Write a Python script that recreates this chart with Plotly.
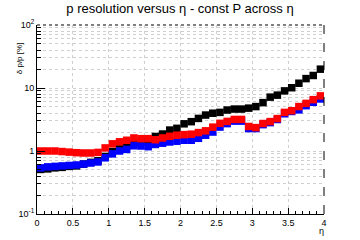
import plotly.graph_objects as go

eta = [round(0.05 + 0.1 * i, 2) for i in range(40)]

black = [0.51, 0.52, 0.54, 0.55, 0.57, 0.58, 0.62, 0.66, 0.70, 0.82,
         0.98, 1.08, 1.20, 1.30, 1.40, 1.52, 1.70, 1.86, 2.15, 2.29,
         2.70, 2.92, 3.29, 3.72, 3.98, 4.10, 4.47, 4.63, 4.63, 4.79,
         5.07, 5.86, 7.16, 7.70, 9.00, 10.1, 11.9, 14.1, 15.8, 19.9]

blue = [0.54, 0.56, 0.57, 0.58, 0.59, 0.60, 0.62, 0.645, 0.67, 0.78,
        0.90, 1.00, 1.06, 1.21, 1.20, 1.17, 1.27, 1.33, 1.39, 1.43,
        1.48, 1.48, 1.59, 1.78, 2.00, 2.40, 2.72, 2.98, 2.98, 2.27,
        2.27, 2.62, 2.82, 3.16, 3.90, 4.24, 4.50, 5.24, 5.93, 6.70]

red = [1.00, 1.00, 1.00, 0.98, 0.96, 0.94, 0.93, 0.93, 0.95, 1.12,
       1.30, 1.40, 1.48, 1.61, 1.57, 1.57, 1.51, 1.61, 1.71, 1.78,
       1.82, 1.85, 1.96, 2.09, 2.39, 2.75, 2.95, 3.17, 3.17, 2.45,
       2.35, 2.73, 2.93, 3.27, 4.10, 4.36, 5.07, 5.70, 6.53, 7.50]

x_tickvals = [0, 0.5, 1, 1.5, 2, 2.5, 3, 3.5, 4]
x_ticktext = ["0", "0.5", "1", "1.5", "2", "2.5", "3", "3.5", "4"]
y_tickvals = [0.1, 1, 10, 100]
y_ticktext = ["10<sup>-1</sup>", "1", "10", "10<sup>2</sup>"]
y_minor = [m * 10.0 ** k for k in (-1, 0, 1) for m in range(2, 10)]
x_minor = [round(0.1 * i, 1) for i in range(41)]

fig = go.Figure()
for vals, col in ((black, "black"), (blue, "blue"), (red, "red")):
    fig.add_trace(go.Scatter(
        x=eta, y=vals, mode="markers",
        marker=dict(symbol="square", size=7.5, color=col, line=dict(width=0)),
        showlegend=False))

font = "Liberation Sans, Arial, sans-serif"
grid = "#cfcfcf"
fig.update_layout(
    width=360, height=240,
    margin=dict(l=37, r=36, t=25, b=24),
    paper_bgcolor="white", plot_bgcolor="white",
    title=dict(text="p resolution versus η - const P across η",
               x=0.5, xanchor="center", y=0.965, yanchor="middle",
               font=dict(family=font, size=13, color="black")),
    font=dict(family=font, size=9, color="black"),
    xaxis=dict(range=[0, 4], tickmode="array", tickvals=x_tickvals, ticktext=x_ticktext,
               ticks="inside", ticklen=6, tickcolor="black",
               showline=True, linecolor="black", linewidth=1,
               showgrid=True, gridcolor=grid, griddash="dot", gridwidth=1,
               zeroline=False, tickfont=dict(size=9),
               minor=dict(tickmode="array", tickvals=x_minor, ticks="inside",
                          ticklen=3, tickcolor="black", showgrid=False)),
    yaxis=dict(type="log", range=[-1, 2], tickmode="array", tickvals=y_tickvals,
               ticktext=y_ticktext, ticks="inside", ticklen=8, tickcolor="black",
               showline=True, linecolor="black", linewidth=1,
               showgrid=True, gridcolor=grid, griddash="dot", gridwidth=1,
               zeroline=False, tickfont=dict(size=9),
               minor=dict(tickmode="array", tickvals=y_minor, ticks="inside",
                          ticklen=4, tickcolor="black", showgrid=True,
                          gridcolor=grid, griddash="dot", gridwidth=1)),
)

fig.add_shape(type="line", xref="paper", yref="paper", x0=0, x1=1, y0=1, y1=1,
              line=dict(color="black", width=1, dash="dot"))
fig.add_shape(type="line", xref="paper", yref="paper", x0=1, x1=1, y0=0, y1=1,
              line=dict(color="black", width=1, dash="dash"))

fig.add_annotation(text="δ p/p [%]", xref="paper", yref="paper",
                   x=-0.085, y=0.92, textangle=-90, showarrow=False,
                   font=dict(family=font, size=8, color="black"))
fig.add_annotation(text="η", xref="paper", yref="paper",
                   x=0.99, y=-0.09, xanchor="center", yanchor="middle",
                   showarrow=False,
                   font=dict(family=font, size=9, color="black"))

fig.write_html("out.html")
